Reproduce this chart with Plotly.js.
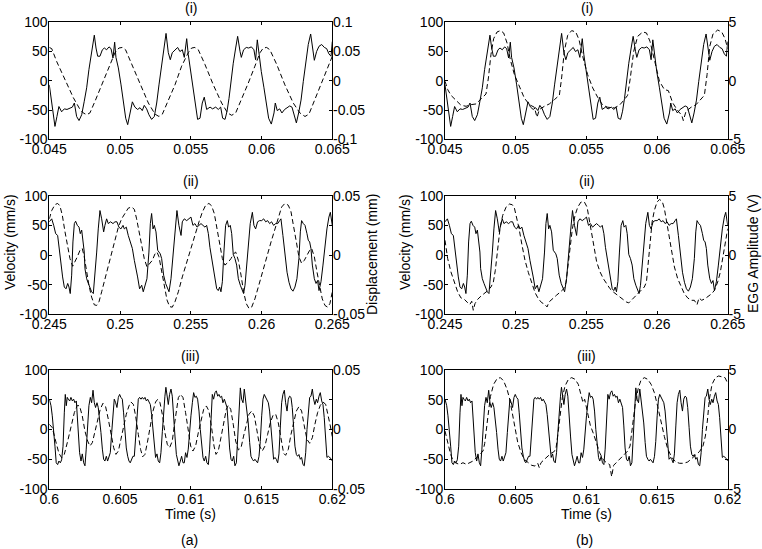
<!DOCTYPE html>
<html>
<head>
<meta charset="utf-8">
<script src="https://cdn.plot.ly/plotly-3.0.1.min.js"></script>
<style>html,body{margin:0;padding:0;background:#fff;}#chart{width:762px;height:549px;}</style>
</head>
<body>
<div id="chart"></div>
<script>
// ---------- Row (i): t = 0.045 .. 0.065 s ----------
const vel1_t = [0.04500,0.04517,0.04540,0.04554,0.04568,0.04587,0.04606,0.04625,0.04646,0.04663,
0.04677,0.04693,0.04710,0.04729,0.04747,0.04764,0.04780,0.04799,0.04818,0.04830,
0.04842,0.04858,0.04875,0.04889,0.04905,0.04922,0.04936,0.04950,0.04962,0.04971,
0.04988,0.05007,0.05023,0.05040,0.05054,0.05070,0.05087,0.05105,0.05124,0.05141,
0.05157,0.05171,0.05188,0.05204,0.05223,0.05242,0.05259,0.05275,0.05294,0.05313,
0.05325,0.05341,0.05355,0.05369,0.05388,0.05407,0.05423,0.05440,0.05454,0.05471,
0.05482,0.05499,0.05518,0.05534,0.05548,0.05565,0.05581,0.05595,0.05612,0.05636,
0.05654,0.05676,0.05694,0.05711,0.05725,0.05742,0.05756,0.05770,0.05784,0.05800,
0.05817,0.05831,0.05848,0.05857,0.05873,0.05892,0.05909,0.05928,0.05946,0.05958,
0.05970,0.05982,0.05998,0.06017,0.06034,0.06050,0.06069,0.06088,0.06097,0.06111,
0.06128,0.06144,0.06163,0.06182,0.06199,0.06215,0.06234,0.06246,0.06262,0.06279,
0.06295,0.06312,0.06330,0.06347,0.06361,0.06373,0.06389,0.06406,0.06425,0.06444,
0.06460,0.06476,0.06491,0.06500];
const vel1_v = [-7,-38,-78,-61,-44,-53,-48,-49,-46,-45,
-38,-61,-68,-58,-35,-12,19,53,78,56,
42,42,53,56,53,58,55,39,66,40,
22,-7,-35,-64,-75,-58,-36,-45,-49,-46,
-51,-42,-48,-58,-66,-61,-38,-7,28,56,
81,48,36,48,53,57,50,53,40,72,
45,16,-15,-46,-66,-64,-38,-28,-49,-45,
-48,-45,-49,-45,-64,-66,-52,-30,-1,30,
56,76,50,40,53,57,56,58,53,36,
70,45,16,-12,-38,-64,-74,-55,-38,-51,
-48,-55,-49,-45,-43,-45,-64,-72,-55,-33,
-1,33,62,80,53,35,50,59,62,57,
55,46,42,67];
const disp1_t = [0.04500,0.04517,0.04552,0.04611,0.04670,0.04717,0.04740,0.04764,0.04787,0.04823,
0.04870,0.04917,0.04964,0.04992,0.05016,0.05039,0.05082,0.05141,0.05200,0.05247,
0.05275,0.05299,0.05341,0.05388,0.05435,0.05482,0.05506,0.05529,0.05553,0.05600,
0.05659,0.05718,0.05760,0.05789,0.05817,0.05859,0.05906,0.05953,0.05989,0.06012,
0.06036,0.06059,0.06107,0.06165,0.06224,0.06271,0.06307,0.06335,0.06377,0.06425,
0.06472,0.06500];
const disp1_d = [0.057,0.055,0.033,0.002,-0.029,-0.049,-0.055,-0.058,-0.055,-0.035,
-0.007,0.022,0.048,0.056,0.057,0.053,0.028,-0.004,-0.038,-0.057,
-0.061,-0.057,-0.032,-0.007,0.025,0.048,0.056,0.057,0.053,0.028,
-0.007,-0.038,-0.055,-0.059,-0.055,-0.032,-0.004,0.025,0.048,0.056,
0.057,0.053,0.028,-0.007,-0.038,-0.055,-0.061,-0.057,-0.032,-0.004,
0.025,0.042];
const egg1_t = [0.04500,0.04519,0.04542,0.04578,0.04613,0.04649,0.04684,0.04719,0.04743,0.04767,
0.04790,0.04807,0.04825,0.04844,0.04868,0.04892,0.04915,0.04939,0.04962,0.04991,
0.05026,0.05061,0.05097,0.05132,0.05151,0.05167,0.05203,0.05238,0.05274,0.05309,
0.05325,0.05344,0.05368,0.05396,0.05425,0.05448,0.05474,0.05509,0.05545,0.05580,
0.05616,0.05651,0.05698,0.05734,0.05769,0.05792,0.05811,0.05835,0.05863,0.05899,
0.05925,0.05950,0.05981,0.06017,0.06052,0.06080,0.06111,0.06146,0.06175,0.06186,
0.06205,0.06241,0.06276,0.06311,0.06335,0.06354,0.06373,0.06396,0.06429,0.06458,
0.06481,0.06500];
const egg1_e = [-0.04,-0.75,-1.24,-1.70,-2.09,-2.18,-2.04,-1.98,-1.70,-1.41,
-1.13,0.24,2.24,3.60,4.17,4.29,4.09,3.23,1.81,0.53,
-0.47,-1.47,-2.04,-2.26,-3.12,-2.46,-2.18,-1.98,-1.61,-1.24,
0.24,2.52,3.89,4.29,4.17,3.52,2.09,0.53,-0.61,-1.41,
-2.09,-2.26,-2.32,-2.09,-1.61,-1.24,0.24,2.52,3.80,4.17,
4.09,3.38,1.81,-0.04,-0.75,-0.84,-1.89,-2.55,-2.95,-3.40,
-2.61,-2.26,-2.04,-1.52,-1.24,0.53,2.95,4.00,4.34,4.17,
3.60,2.75];

// ---------- Row (ii): t = 0.245 .. 0.265 s ----------
const vel2_t = [0.24500,0.24517,0.24531,0.24545,0.24559,0.24568,0.24582,0.24594,0.24606,0.24618,
0.24630,0.24639,0.24648,0.24658,0.24667,0.24677,0.24686,0.24698,0.24710,0.24719,
0.24729,0.24738,0.24747,0.24752,0.24764,0.24776,0.24787,0.24799,0.24811,0.24823,
0.24835,0.24846,0.24858,0.24870,0.24884,0.24893,0.24905,0.24917,0.24933,0.24950,
0.24964,0.24978,0.24992,0.25006,0.25021,0.25030,0.25044,0.25058,0.25072,0.25087,
0.25101,0.25110,0.25124,0.25138,0.25153,0.25164,0.25176,0.25190,0.25204,0.25214,
0.25223,0.25233,0.25242,0.25254,0.25266,0.25275,0.25284,0.25294,0.25308,0.25322,
0.25336,0.25346,0.25360,0.25374,0.25388,0.25402,0.25416,0.25431,0.25440,0.25454,
0.25471,0.25487,0.25501,0.25515,0.25529,0.25544,0.25558,0.25572,0.25586,0.25600,
0.25612,0.25624,0.25635,0.25647,0.25659,0.25671,0.25683,0.25694,0.25704,0.25713,
0.25723,0.25734,0.25746,0.25758,0.25767,0.25779,0.25789,0.25800,0.25812,0.25824,
0.25836,0.25850,0.25864,0.25873,0.25883,0.25895,0.25906,0.25920,0.25935,0.25946,
0.25958,0.25972,0.25986,0.26001,0.26015,0.26029,0.26043,0.26057,0.26071,0.26085,
0.26100,0.26114,0.26128,0.26137,0.26151,0.26165,0.26180,0.26194,0.26208,0.26222,
0.26236,0.26250,0.26264,0.26274,0.26283,0.26295,0.26307,0.26321,0.26330,0.26340,
0.26349,0.26359,0.26373,0.26385,0.26396,0.26406,0.26420,0.26434,0.26448,0.26462,
0.26476,0.26486,0.26500];
const vel2_v = [56,61,50,36,33,13,-12,-37,-54,-57,
-48,-54,-65,-34,22,53,57,50,47,36,
42,22,5,-23,-40,-48,-54,-62,-65,-34,
5,44,75,61,39,50,61,53,56,53,
56,56,47,44,50,44,47,33,22,11,
-9,-23,-37,-57,-51,-62,-51,-40,5,53,
70,44,50,39,8,5,2,-6,-34,-48,
-57,-62,-40,-6,39,75,50,33,56,61,
58,61,64,50,53,47,50,53,50,47,
50,36,13,-6,-26,-43,-57,-60,-54,-62,
-45,5,50,58,47,50,36,1,-6,-17,
-40,-51,-60,-65,-51,-17,11,53,72,50,
44,56,58,58,61,56,58,53,56,50,
53,53,58,61,33,-1,-29,-46,-57,-61,
-54,-40,-6,39,58,53,50,36,25,22,
11,-17,-40,-48,-43,-60,-45,-17,17,44,
64,72,50];
const disp2_t = [0.24500,0.24517,0.24540,0.24559,0.24575,0.24592,0.24611,0.24630,0.24646,0.24665,
0.24681,0.24698,0.24717,0.24733,0.24747,0.24764,0.24780,0.24799,0.24818,0.24835,
0.24851,0.24870,0.24893,0.24917,0.24941,0.24964,0.24988,0.25011,0.25035,0.25058,
0.25082,0.25101,0.25117,0.25134,0.25153,0.25171,0.25190,0.25209,0.25228,0.25247,
0.25261,0.25275,0.25294,0.25313,0.25332,0.25350,0.25369,0.25388,0.25412,0.25440,
0.25471,0.25501,0.25529,0.25558,0.25581,0.25605,0.25628,0.25647,0.25666,0.25685,
0.25704,0.25723,0.25741,0.25765,0.25784,0.25803,0.25817,0.25836,0.25855,0.25873,
0.25892,0.25911,0.25930,0.25953,0.25977,0.26005,0.26036,0.26067,0.26095,0.26118,
0.26142,0.26165,0.26189,0.26208,0.26227,0.26246,0.26264,0.26283,0.26302,0.26321,
0.26340,0.26354,0.26373,0.26392,0.26411,0.26429,0.26448,0.26467,0.26483,0.26500];
const disp2_d = [0.0305,0.0375,0.0425,0.0435,0.0415,0.0335,0.0195,0.0065,-0.003,-0.0095,
-0.006,-0.0015,0.004,0.0055,-0.0015,-0.0145,-0.0255,-0.0355,-0.042,-0.0425,
-0.0395,-0.031,-0.02,-0.0085,0.0025,0.014,0.0235,0.0305,0.0355,0.0395,
0.0405,0.0385,0.0305,0.0195,0.0065,-0.003,-0.01,-0.007,-0.0045,0.001,
0.0025,-0.0015,-0.0145,-0.0285,-0.038,-0.0435,-0.044,-0.0395,-0.031,-0.0185,
-0.006,0.0065,0.018,0.028,0.036,0.042,0.0435,0.0415,0.035,0.022,
0.008,-0.003,-0.0085,-0.006,-0.003,0.001,0.0025,-0.0045,-0.017,-0.031,
-0.041,-0.045,-0.044,-0.037,-0.027,-0.0145,-0.0015,0.011,0.022,0.032,
0.0405,0.0435,0.042,0.0365,0.025,0.011,-0.0015,-0.007,-0.0045,-0.0005,
0.004,0.0055,-0.0015,-0.0145,-0.027,-0.037,-0.0425,-0.044,-0.041,-0.031];
const egg2_t = [0.24500,0.24519,0.24542,0.24566,0.24590,0.24613,0.24637,0.24660,0.24675,0.24689,
0.24700,0.24712,0.24731,0.24755,0.24778,0.24802,0.24825,0.24842,0.24856,0.24873,
0.24889,0.24908,0.24932,0.24955,0.24976,0.24991,0.25005,0.25024,0.25045,0.25066,
0.25090,0.25113,0.25137,0.25160,0.25184,0.25203,0.25222,0.25236,0.25259,0.25288,
0.25316,0.25340,0.25356,0.25370,0.25384,0.25401,0.25420,0.25439,0.25462,0.25486,
0.25505,0.25519,0.25533,0.25552,0.25573,0.25597,0.25620,0.25644,0.25667,0.25691,
0.25715,0.25738,0.25762,0.25783,0.25800,0.25818,0.25842,0.25866,0.25889,0.25910,
0.25925,0.25936,0.25950,0.25965,0.25981,0.26000,0.26019,0.26038,0.26052,0.26066,
0.26085,0.26104,0.26123,0.26146,0.26170,0.26193,0.26217,0.26241,0.26264,0.26283,
0.26297,0.26316,0.26340,0.26363,0.26387,0.26406,0.26429,0.26448,0.26465,0.26481,
0.26500];
const egg2_e = [1.24,-0.31,-1.43,-2.28,-3.12,-3.62,-3.74,-4.02,-4.19,-3.90,
-4.66,-4.10,-3.74,-3.46,-3.26,-3.01,-2.70,-2.28,-1.29,0.53,
2.22,3.34,4.04,4.30,4.24,3.96,3.29,2.22,0.81,-0.45,
-1.49,-2.42,-3.17,-3.68,-4.02,-4.13,-4.38,-3.96,-3.68,-3.40,
-3.12,-2.84,-2.33,-0.87,0.81,2.22,3.34,4.04,4.47,4.47,
4.04,3.06,1.94,0.53,-0.59,-1.43,-1.99,-2.42,-2.84,-3.12,
-3.34,-3.54,-3.74,-3.96,-4.04,-3.82,-3.54,-3.26,-2.98,-2.70,
-2.28,-0.87,1.38,2.78,3.76,4.47,4.69,4.47,3.90,2.92,
1.38,-0.03,-1.01,-1.99,-2.70,-3.26,-3.62,-3.82,-3.82,-4.19,
-3.62,-3.82,-3.68,-3.46,-3.26,-2.98,-2.28,-1.43,-0.31,1.10,
2.22];

// ---------- Row (iii): t = 0.600 .. 0.620 s ----------
const vel3_t = [0.60000,0.60012,0.60021,0.60031,0.60040,0.60049,0.60059,0.60068,0.60078,0.60087,
0.60097,0.60106,0.60113,0.60120,0.60127,0.60134,0.60144,0.60153,0.60163,0.60172,
0.60181,0.60191,0.60198,0.60205,0.60214,0.60224,0.60233,0.60243,0.60252,0.60261,
0.60271,0.60280,0.60290,0.60299,0.60309,0.60318,0.60327,0.60337,0.60346,0.60356,
0.60365,0.60375,0.60384,0.60393,0.60403,0.60412,0.60422,0.60431,0.60441,0.60450,
0.60459,0.60469,0.60478,0.60488,0.60497,0.60506,0.60516,0.60525,0.60535,0.60544,
0.60554,0.60563,0.60572,0.60582,0.60591,0.60601,0.60610,0.60620,0.60629,0.60638,
0.60648,0.60657,0.60667,0.60676,0.60686,0.60695,0.60704,0.60714,0.60723,0.60733,
0.60742,0.60751,0.60761,0.60770,0.60780,0.60789,0.60799,0.60808,0.60817,0.60824,
0.60832,0.60841,0.60850,0.60860,0.60869,0.60879,0.60888,0.60898,0.60907,0.60916,
0.60926,0.60935,0.60945,0.60954,0.60963,0.60973,0.60982,0.60992,0.61001,0.61011,
0.61020,0.61029,0.61039,0.61048,0.61058,0.61067,0.61077,0.61086,0.61095,0.61105,
0.61114,0.61124,0.61133,0.61143,0.61152,0.61161,0.61171,0.61180,0.61190,0.61199,
0.61208,0.61218,0.61227,0.61237,0.61246,0.61256,0.61265,0.61274,0.61284,0.61293,
0.61303,0.61312,0.61322,0.61331,0.61340,0.61350,0.61359,0.61369,0.61378,0.61388,
0.61397,0.61406,0.61416,0.61425,0.61435,0.61444,0.61453,0.61463,0.61472,0.61482,
0.61491,0.61501,0.61510,0.61519,0.61529,0.61538,0.61548,0.61557,0.61567,0.61576,
0.61585,0.61595,0.61604,0.61614,0.61623,0.61633,0.61642,0.61651,0.61661,0.61670,
0.61680,0.61689,0.61698,0.61708,0.61717,0.61727,0.61736,0.61746,0.61755,0.61764,
0.61774,0.61783,0.61793,0.61802,0.61812,0.61821,0.61830,0.61840,0.61849,0.61859,
0.61868,0.61877,0.61887,0.61896,0.61906,0.61915,0.61925,0.61934,0.61943,0.61953,
0.61962,0.61972,0.61981,0.61991,0.62000];
const vel3_v = [51,40,23,0,-28,-56,-59,-53,-56,-51,
-28,28,59,40,54,51,48,54,48,51,
45,48,23,-5,-39,-53,-41,-56,-61,-33,
6,40,54,45,66,45,37,45,37,17,
-5,-33,-50,-53,-45,-53,-45,-39,-5,34,
51,45,37,54,59,54,51,28,-5,-31,
-45,-53,-56,-50,-45,-45,-17,28,51,54,
51,54,51,54,48,51,45,42,25,-3,
-33,-47,-41,-53,-56,-39,-3,34,56,71,
56,42,59,68,56,28,-11,-42,-50,-61,
-53,-45,-56,-56,-39,-47,-33,0,23,45,
62,54,56,51,31,0,-33,-47,-53,-45,
-56,-59,-33,28,59,51,62,65,56,59,
54,56,45,51,45,37,6,-31,-50,-53,
-45,-61,-56,-17,34,70,51,45,68,48,
37,11,-22,-45,-50,-53,-50,-53,-56,-45,
-20,23,51,59,54,51,45,31,0,-33,
-50,-47,-50,-56,-41,6,45,59,66,45,
31,51,56,54,37,3,-28,-42,-45,-42,
-50,-47,-59,-61,-39,0,34,54,56,68,
51,42,51,45,56,62,48,42,20,-28,
-47,-45,-47,-49,-53];
const disp3_t = [0.60000,0.60021,0.60045,0.60068,0.60087,0.60106,0.60130,0.60153,0.60177,0.60198,
0.60214,0.60233,0.60252,0.60271,0.60287,0.60304,0.60323,0.60342,0.60360,0.60379,
0.60398,0.60417,0.60436,0.60455,0.60471,0.60488,0.60506,0.60525,0.60544,0.60563,
0.60577,0.60594,0.60610,0.60629,0.60645,0.60660,0.60676,0.60695,0.60714,0.60733,
0.60751,0.60766,0.60782,0.60801,0.60817,0.60834,0.60850,0.60869,0.60883,0.60898,
0.60912,0.60928,0.60945,0.60963,0.60982,0.60999,0.61015,0.61034,0.61053,0.61072,
0.61091,0.61110,0.61128,0.61147,0.61164,0.61178,0.61194,0.61213,0.61232,0.61251,
0.61265,0.61282,0.61300,0.61317,0.61336,0.61355,0.61373,0.61392,0.61411,0.61430,
0.61449,0.61468,0.61486,0.61505,0.61524,0.61543,0.61562,0.61581,0.61600,0.61618,
0.61637,0.61656,0.61670,0.61689,0.61708,0.61727,0.61746,0.61764,0.61783,0.61802,
0.61821,0.61840,0.61859,0.61877,0.61896,0.61915,0.61934,0.61953,0.61972,0.61986,
0.62000];
const disp3_d = [0.0044,0.0016,-0.0097,-0.0200,-0.0237,-0.0209,-0.0097,0.0030,0.0142,0.0203,
0.0198,0.0114,-0.0013,-0.0097,-0.0139,-0.0111,-0.0013,0.0086,0.0170,0.0220,
0.0192,0.0086,-0.0041,-0.0153,-0.0209,-0.0181,-0.0083,0.0030,0.0128,0.0198,
0.0231,0.0212,0.0114,-0.0041,-0.0167,-0.0229,-0.0209,-0.0097,0.0044,0.0156,
0.0231,0.0254,0.0226,0.0114,-0.0027,-0.0125,-0.0153,-0.0097,0.0030,0.0170,
0.0268,0.0296,0.0268,0.0142,-0.0027,-0.0139,-0.0181,-0.0139,-0.0027,0.0086,
0.0170,0.0198,0.0156,0.0016,-0.0139,-0.0209,-0.0181,-0.0069,0.0058,0.0170,
0.0203,0.0170,0.0044,-0.0097,-0.0172,-0.0153,-0.0055,0.0044,0.0128,0.0156,
0.0114,-0.0013,-0.0139,-0.0181,-0.0139,-0.0041,0.0058,0.0119,0.0128,0.0058,
-0.0083,-0.0200,-0.0217,-0.0167,-0.0041,0.0072,0.0156,0.0192,0.0156,0.0030,
-0.0083,-0.0116,-0.0069,0.0044,0.0142,0.0203,0.0231,0.0212,0.0114,0.0030,
-0.0060];
const egg3_t = [0.60000,0.60019,0.60038,0.60057,0.60080,0.60104,0.60127,0.60151,0.60175,0.60198,
0.60222,0.60245,0.60269,0.60281,0.60292,0.60304,0.60321,0.60344,0.60368,0.60392,
0.60415,0.60439,0.60458,0.60476,0.60495,0.60514,0.60538,0.60561,0.60590,0.60613,
0.60637,0.60656,0.60667,0.60679,0.60703,0.60726,0.60750,0.60769,0.60785,0.60800,
0.60814,0.60830,0.60849,0.60873,0.60896,0.60920,0.60943,0.60962,0.60976,0.60988,
0.61005,0.61028,0.61052,0.61071,0.61094,0.61118,0.61142,0.61165,0.61179,0.61193,
0.61217,0.61245,0.61269,0.61292,0.61309,0.61328,0.61347,0.61368,0.61387,0.61410,
0.61434,0.61458,0.61481,0.61505,0.61528,0.61552,0.61575,0.61604,0.61632,0.61660,
0.61689,0.61717,0.61745,0.61774,0.61802,0.61825,0.61842,0.61856,0.61870,0.61889,
0.61913,0.61936,0.61960,0.61981,0.62000];
const egg3_e = [-0.13,-1.11,-2.00,-2.65,-2.84,-2.93,-2.79,-2.93,-2.79,-2.65,
-2.37,-2.09,-1.81,-1.16,-0.27,1.13,2.76,3.80,4.27,4.36,
4.08,3.38,2.54,1.41,0.15,-1.05,-1.95,-2.51,-2.79,-3.01,
-3.07,-2.84,-3.21,-2.79,-2.51,-2.23,-2.00,-1.89,-1.61,-0.27,
1.13,2.68,3.66,4.22,4.36,4.22,3.80,2.96,2.26,2.54,
1.69,0.35,-0.41,-1.16,-1.95,-2.51,-2.79,-2.95,-3.96,-3.01,
-2.73,-2.42,-2.14,-1.81,-1.39,0.29,2.26,3.52,4.16,4.36,
4.22,3.80,3.10,1.92,0.63,-0.60,-1.61,-2.34,-2.73,-2.84,
-2.84,-2.73,-2.45,-2.14,-1.83,-1.39,-0.55,0.71,2.54,3.80,
4.36,4.50,4.41,4.36,3.88];

// ---------- Axis ticks / labels ----------
const xTicks1 = [0.045, 0.05, 0.055, 0.06, 0.065];
const xTickText1 = ['0.045', '0.05', '0.055', '0.06', '0.065'];
const xTicks2 = [0.245, 0.25, 0.255, 0.26, 0.265];
const xTickText2 = ['0.245', '0.25', '0.255', '0.26', '0.265'];
const xTicks3 = [0.6, 0.605, 0.61, 0.615, 0.62];
const xTickText3 = ['0.6', '0.605', '0.61', '0.615', '0.62'];
const velTicks = [-100, -50, 0, 50, 100];
const velTickText = ['-100', '-50', '0', '50', '100'];
const disp1Ticks = [-0.1, -0.05, 0, 0.05, 0.1];
const disp1TickText = ['-0.1', '-0.05', '0', '0.05', '0.1'];
const dispTicks = [-0.05, 0, 0.05];
const dispTickText = ['-0.05', '0', '0.05'];
const eggTicks = [-5, 0, 5];
const eggTickText = ['-5', '0', '5'];

// ---------- Build figure ----------
const FONT = {family: 'Liberation Sans, Arial, Helvetica, sans-serif', size: 14, color: '#000'};
const solid = {color: '#000', width: 1};
const dashed = {color: '#000', width: 1, dash: '5px,3px'};

const rows = [
  {vt: vel1_t, vv: vel1_v, dt: disp1_t, dd: disp1_d, et: egg1_t, ee: egg1_e,
   xr: [0.045, 0.065], xt: xTicks1, xtt: xTickText1, dr: [-0.1, 0.1], dtk: disp1Ticks, dtt: disp1TickText,
   dom: [0.7463, 0.9594]},
  {vt: vel2_t, vv: vel2_v, dt: disp2_t, dd: disp2_d, et: egg2_t, ee: egg2_e,
   xr: [0.245, 0.265], xt: xTicks2, xtt: xTickText2, dr: [-0.05, 0.05], dtk: dispTicks, dtt: dispTickText,
   dom: [0.4275, 0.6435]},
  {vt: vel3_t, vv: vel3_v, dt: disp3_t, dd: disp3_d, et: egg3_t, ee: egg3_e,
   xr: [0.6, 0.62], xt: xTicks3, xtt: xTickText3, dr: [-0.05, 0.05], dtk: dispTicks, dtt: dispTickText,
   dom: [0.1093, 0.3260]}
];
const xDomL = [0.0647, 0.4361];
const xDomR = [0.5840, 0.9550];

const data = [];
const layout = {
  width: 762, height: 549, autosize: false,
  margin: {l: 0, r: 0, t: 0, b: 0, pad: 0},
  paper_bgcolor: '#fff', plot_bgcolor: 'rgba(0,0,0,0)',
  showlegend: false, font: FONT, annotations: []
};

function xAxis(row, dom, yname) {
  return {domain: dom, anchor: yname, range: row.xr, tickmode: 'array', tickvals: row.xt, ticktext: row.xtt,
    ticks: 'inside', ticklen: 3, tickcolor: '#000', mirror: 'ticks', showline: true, linecolor: '#000', linewidth: 1,
    showgrid: false, zeroline: false, tickfont: FONT, ticklabelstandoff: -3, fixedrange: true};
}
function leftAxis(row, xname) {
  return {domain: row.dom, anchor: xname, range: [-100, 100], tickmode: 'array', tickvals: velTicks, ticktext: velTickText,
    ticks: 'inside', ticklen: 3, tickcolor: '#000', mirror: 'ticks', showline: true, linecolor: '#000', linewidth: 1,
    showgrid: false, zeroline: false, tickfont: FONT, ticklabelstandoff: -2, fixedrange: true};
}
function rightAxis(range, tv, tt, xname, over) {
  return {overlaying: over, anchor: xname, side: 'right', range: range, tickmode: 'array', tickvals: tv, ticktext: tt,
    ticks: 'inside', ticklen: 3, tickcolor: '#000', showline: true, linecolor: '#000', linewidth: 1,
    showgrid: false, zeroline: false, tickfont: FONT, ticklabelstandoff: -3, fixedrange: true};
}

rows.forEach((row, i) => {
  const xa = 2 * i + 1, xb = 2 * i + 2;
  const ya1 = 4 * i + 1, ya2 = 4 * i + 2, yb1 = 4 * i + 3, yb2 = 4 * i + 4;
  const xn = n => n === 1 ? 'x' : 'x' + n;
  const yn = n => n === 1 ? 'y' : 'y' + n;
  const xk = n => n === 1 ? 'xaxis' : 'xaxis' + n;
  const yk = n => n === 1 ? 'yaxis' : 'yaxis' + n;

  layout[xk(xa)] = xAxis(row, xDomL, yn(ya1));
  layout[yk(ya1)] = leftAxis(row, xn(xa));
  layout[yk(ya2)] = rightAxis(row.dr, row.dtk, row.dtt, xn(xa), yn(ya1));
  layout[xk(xb)] = xAxis(row, xDomR, yn(yb1));
  layout[yk(yb1)] = leftAxis(row, xn(xb));
  layout[yk(yb2)] = rightAxis([-5, 5], eggTicks, eggTickText, xn(xb), yn(yb1));

  data.push({x: row.vt, y: row.vv, xaxis: xn(xa), yaxis: yn(ya1), type: 'scatter', mode: 'lines', line: solid, hoverinfo: 'skip'});
  data.push({x: row.dt, y: row.dd, xaxis: xn(xa), yaxis: yn(ya2), type: 'scatter', mode: 'lines', line: dashed, hoverinfo: 'skip'});
  data.push({x: row.vt, y: row.vv, xaxis: xn(xb), yaxis: yn(yb1), type: 'scatter', mode: 'lines', line: solid, hoverinfo: 'skip'});
  data.push({x: row.et, y: row.ee, xaxis: xn(xb), yaxis: yn(yb2), type: 'scatter', mode: 'lines', line: dashed, hoverinfo: 'skip'});
});

const titleY = [0.9863, 0.6694, 0.3515];
const titles = ['(i)', '(ii)', '(iii)'];
const ann = layout.annotations;
function addText(text, x, y, angle) {
  ann.push({text: text, x: x, y: y, xref: 'paper', yref: 'paper', xanchor: 'center', yanchor: 'middle',
    showarrow: false, textangle: angle || 0, font: FONT});
}
titles.forEach((t, i) => { addText(t, 0.2503, titleY[i]); addText(t, 0.7697, titleY[i]); });
addText('Velocity (mm/s)', 0.0131, 0.5592, -90);
addText('Velocity (mm/s)', 0.5315, 0.5592, -90);
addText('Displacement (mm)', 0.4882, 0.5355, -90);
addText('EGG Amplitude (V)', 0.9882, 0.5373, -90);
addText('Time (s)', 0.2503, 0.0630);
addText('Time (s)', 0.7697, 0.0630);
addText('(a)', 0.2493, 0.0164);
addText('(b)', 0.7677, 0.0164);

Plotly.newPlot('chart', data, layout, {staticPlot: true, displayModeBar: false});
</script>
</body>
</html>
